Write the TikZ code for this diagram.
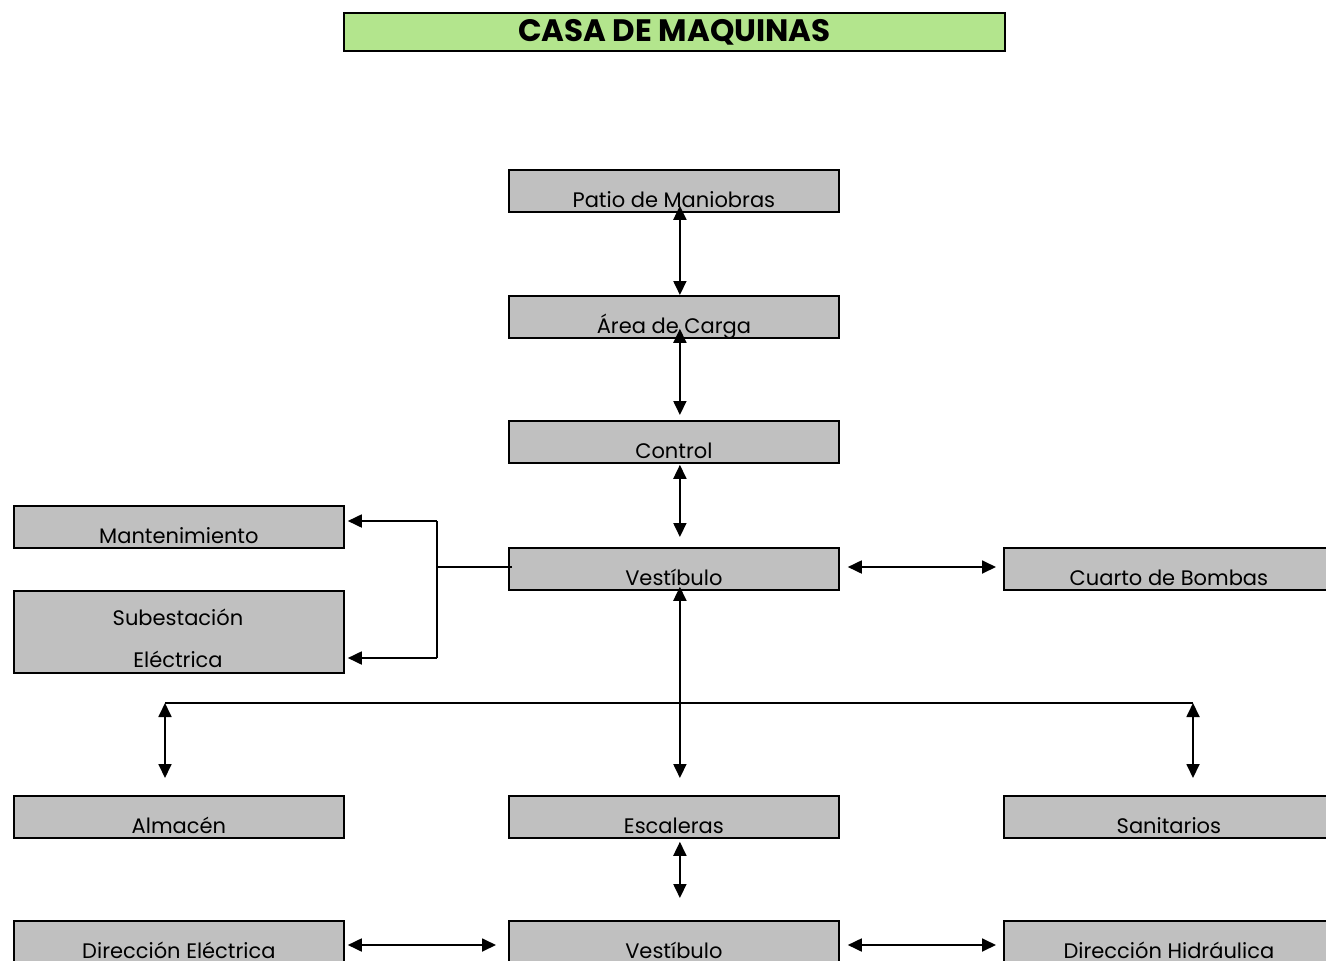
\documentclass[tikz,border=0pt]{standalone}
\usepackage{fontspec}
\setmainfont{Poppins}
\usetikzlibrary{arrows.meta}
\definecolor{boxgray}{RGB}{192,192,192}
\definecolor{titlegreen}{RGB}{179,229,141}
\tikzset{
  box/.style={draw=black, line width=1.8pt, fill=boxgray, minimum width=330pt,
    inner sep=0pt, text height=38pt, text depth=4pt, font=\fontsize{21}{21}\selectfont, anchor=north west},
  tallbox/.style={draw=black, line width=1.8pt, fill=boxgray, minimum width=330pt,
    minimum height=82pt, inner sep=0pt, anchor=north west},
  lbl/.style={font=\fontsize{21}{21}\selectfont, inner sep=0pt, anchor=base},
  tip/.tip={Triangle[length=14pt,width=13pt]},
  both/.style={line width=1.8pt, tip-tip},
  one/.style={line width=1.8pt, -tip},
  plain/.style={line width=1.8pt},
}
\begin{document}
\begin{tikzpicture}[x=1pt,y=-1pt]
\useasboundingbox (0,0) rectangle (1326,961);
\clip (0,0) rectangle (1326,961);
% title
\node[draw=black, line width=1.8pt, fill=titlegreen, minimum width=661pt, minimum height=38pt,
  inner sep=0pt, anchor=north west, font=\fontsize{31}{31}\selectfont\bfseries] (title) at (343,12) {CASA DE MAQUINAS};
% boxes
\node[box] (patio) at (508,169) {Patio de Maniobras};
\node[box] (area) at (508,295) {Área de Carga};
\node[box] (control) at (508,420) {Control};
\node[box] (vest) at (508,547) {Vestíbulo};
\node[box] (mant) at (13,505) {Mantenimiento};
\node[tallbox] (sub) at (13,590) {};
\node[lbl] (subA) at (178,625) {Subestación};
\node[lbl] (subB) at (178,667) {Eléctrica};
\node[box] (bombas) at (1003,547) {Cuarto de Bombas};
\node[box] (alm) at (13,795) {Almacén};
\node[box] (esc) at (508,795) {Escaleras};
\node[box] (san) at (1003,795) {Sanitarios};
\node[box] (direl) at (13,920) {Dirección Eléctrica};
\node[box] (vest2) at (508,920) {Vestíbulo};
\node[box] (dirh) at (1003,920) {Dirección Hidráulica};
% coordinates
\coordinate (fork) at (437,567);
\coordinate (forktop) at (437,521);
\coordinate (forkbot) at (437,658);
\coordinate (barL) at (165,703);
\coordinate (barR) at (1193,703);
\coordinate (rowB) at (0,945);
% connectors
\draw[both] ([xshift=6pt,yshift=7pt]patio.south) -- ([xshift=6pt]area.north);
\draw[both] ([xshift=6pt,yshift=10pt]area.south) -- ([xshift=6pt,yshift=5pt]control.north);
\draw[both] ([xshift=6pt,yshift=-1pt]control.south) -- ([xshift=6pt,yshift=10pt]vest.north);
\draw[both] ([xshift=8pt]vest.east |- fork) -- ([xshift=-7pt]bombas.west |- fork);
\draw[plain] ([xshift=4pt]vest.west |- fork) -- (fork);
\draw[plain] (forktop) -- (forkbot);
\draw[one] (forktop) -- ([xshift=3pt]mant.east |- forktop);
\draw[one] (forkbot) -- ([xshift=3pt]sub.east |- forkbot);
\draw[both] ([xshift=6pt,yshift=4pt]vest.south) -- ([xshift=6pt,yshift=17pt]esc.north);
\draw[plain] (barL) -- (barR);
\draw[both] (barL) -- ([yshift=17pt]alm.north -| barL);
\draw[both] (barR) -- ([yshift=17pt]san.north -| barR);
\draw[both] ([xshift=6pt,yshift=-3pt]esc.south) -- ([xshift=6pt,yshift=22pt]vest2.north);
\draw[both] ([xshift=3pt]direl.east |- rowB) -- ([xshift=-12pt]vest2.west |- rowB);
\draw[both] ([xshift=8pt]vest2.east |- rowB) -- ([xshift=-7pt]dirh.west |- rowB);
\end{tikzpicture}
\end{document}
